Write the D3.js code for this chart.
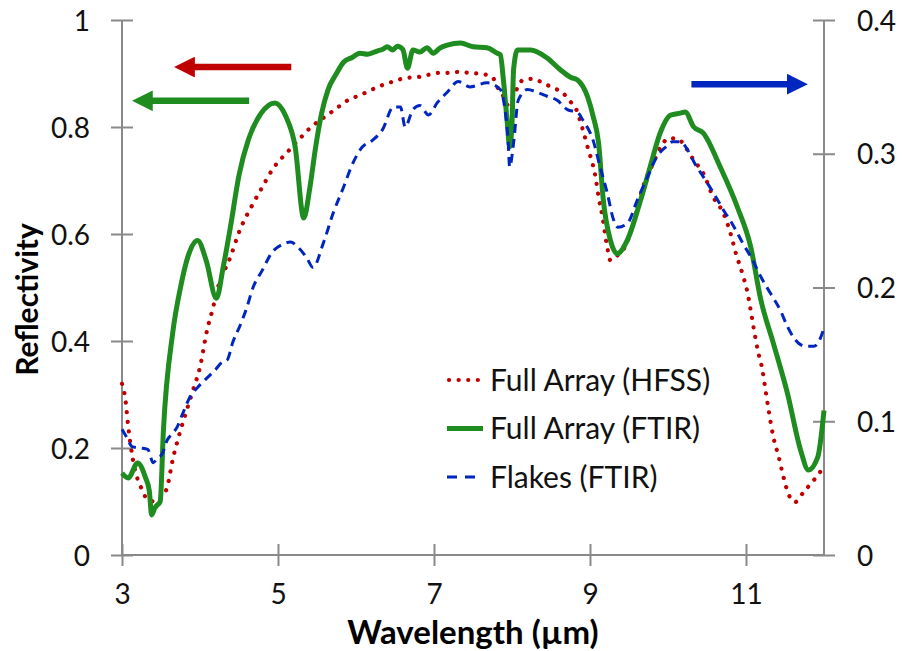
<!DOCTYPE html>
<html>
<head>
<meta charset="utf-8">
<script src="https://cdn.jsdelivr.net/npm/d3@7/dist/d3.min.js"></script>
<style>
  body { margin: 0; background: #fff; }
  svg { display: block; font-family: Lato, "Open Sans", sans-serif; }
</style>
</head>
<body>
<svg width="902" height="651"></svg>
<script>
// series data, [wavelength (um), reflectivity]
const hfss = [
  [3.00,0.320],[3.04,0.295],[3.08,0.240],[3.14,0.178],[3.26,0.121],[3.33,0.103],[3.42,0.100],
  [3.51,0.108],[3.58,0.127],[3.65,0.178],[3.74,0.228],[3.83,0.271],[3.91,0.308],[4.00,0.351],
  [4.09,0.420],[4.17,0.464],[4.23,0.500],[4.39,0.557],[4.51,0.607],[4.67,0.654],[4.80,0.688],
  [4.94,0.723],[5.12,0.753],[5.31,0.783],[5.41,0.798],[5.63,0.822],[5.76,0.836],[5.86,0.847],
  [5.99,0.856],[6.12,0.864],[6.25,0.873],[6.37,0.880],[6.50,0.886],[6.64,0.892],[6.78,0.893],
  [6.91,0.897],[7.05,0.901],[7.18,0.901],[7.32,0.903],[7.46,0.901],[7.62,0.899],[7.75,0.893],
  [7.81,0.875],[7.88,0.860],[7.95,0.841],[8.07,0.873],[8.14,0.888],[8.27,0.890],[8.40,0.882],
  [8.53,0.873],[8.65,0.864],[8.75,0.847],[8.81,0.837],[8.91,0.794],[8.98,0.757],[9.03,0.733],
  [9.07,0.707],[9.11,0.669],[9.16,0.632],[9.22,0.576],[9.26,0.551],[9.36,0.561],[9.45,0.576],
  [9.58,0.632],[9.68,0.688],[9.80,0.729],[9.90,0.761],[10.01,0.779],[10.13,0.778],[10.22,0.763],
  [10.33,0.738],[10.45,0.714],[10.58,0.669],[10.71,0.639],[10.80,0.602],[10.87,0.564],
  [10.96,0.523],[11.02,0.490],[11.08,0.440],[11.15,0.383],[11.21,0.346],[11.25,0.308],
  [11.29,0.271],[11.35,0.221],[11.42,0.183],[11.48,0.146],[11.55,0.112],[11.63,0.099],
  [11.74,0.118],[11.87,0.140],[11.99,0.163]
];

const ftir = [
  [3.00,0.153],[3.08,0.144],[3.20,0.172],[3.30,0.145],[3.35,0.120],[3.38,0.075],[3.42,0.088],
  [3.45,0.093],[3.49,0.100],[3.53,0.230],[3.65,0.415],[3.75,0.500],[3.85,0.560],[3.97,0.588],
  [4.08,0.550],[4.21,0.480],[4.30,0.540],[4.39,0.613],[4.50,0.710],[4.62,0.776],[4.78,0.825],
  [4.96,0.845],[5.10,0.820],[5.22,0.763],[5.33,0.630],[5.41,0.688],[5.48,0.760],[5.56,0.826],
  [5.64,0.869],[5.75,0.900],[5.84,0.921],[5.95,0.930],[6.05,0.938],[6.15,0.936],[6.27,0.942],
  [6.35,0.946],[6.40,0.950],[6.47,0.944],[6.53,0.951],[6.60,0.945],[6.66,0.910],[6.73,0.944],
  [6.82,0.940],[6.91,0.948],[6.99,0.938],[7.08,0.948],[7.17,0.953],[7.34,0.957],[7.50,0.950],
  [7.68,0.948],[7.81,0.938],[7.85,0.935],[7.89,0.888],[7.94,0.807],[7.97,0.763],[8.00,0.807],
  [8.02,0.907],[8.07,0.944],[8.24,0.944],[8.45,0.929],[8.62,0.907],[8.75,0.893],[8.84,0.888],
  [8.97,0.856],[9.04,0.820],[9.11,0.770],[9.17,0.664],[9.26,0.589],[9.35,0.563],[9.48,0.589],
  [9.65,0.664],[9.77,0.725],[9.90,0.789],[10.03,0.822],[10.16,0.826],[10.22,0.828],
  [10.33,0.800],[10.45,0.789],[10.67,0.725],[10.89,0.650],[11.06,0.576],[11.19,0.477],
  [11.35,0.396],[11.53,0.303],[11.70,0.196],[11.80,0.159],[11.92,0.183],[12.00,0.270]
];

// flakes are on the secondary (right) axis
const flakes = [
  [3.00,0.094],[3.06,0.088],[3.13,0.081],[3.23,0.080],[3.33,0.079],[3.40,0.069],[3.46,0.073],
  [3.51,0.075],[3.58,0.086],[3.65,0.091],[3.71,0.096],[3.78,0.106],[3.87,0.118],[3.98,0.126],
  [4.10,0.133],[4.19,0.138],[4.28,0.144],[4.35,0.146],[4.42,0.159],[4.51,0.171],[4.60,0.185],
  [4.68,0.200],[4.80,0.213],[4.92,0.226],[5.05,0.232],[5.16,0.234],[5.26,0.230],[5.37,0.222],
  [5.45,0.215],[5.58,0.233],[5.71,0.256],[5.84,0.275],[5.96,0.293],[6.08,0.305],[6.21,0.310],
  [6.34,0.318],[6.48,0.335],[6.57,0.335],[6.63,0.320],[6.73,0.333],[6.82,0.336],[6.93,0.329],
  [7.04,0.338],[7.17,0.346],[7.31,0.354],[7.46,0.350],[7.68,0.353],[7.85,0.348],[7.91,0.333],
  [7.95,0.310],[7.97,0.290],[8.02,0.308],[8.08,0.340],[8.20,0.348],[8.32,0.346],[8.45,0.343],
  [8.58,0.340],[8.71,0.333],[8.84,0.331],[8.91,0.325],[9.04,0.310],[9.13,0.290],[9.22,0.271],
  [9.30,0.251],[9.36,0.245],[9.48,0.248],[9.61,0.266],[9.74,0.283],[9.86,0.298],[9.97,0.305],
  [10.06,0.309],[10.16,0.309],[10.25,0.303],[10.35,0.292],[10.45,0.283],[10.58,0.271],
  [10.71,0.258],[10.83,0.247],[10.96,0.233],[11.08,0.221],[11.19,0.208],[11.31,0.196],
  [11.44,0.183],[11.53,0.171],[11.63,0.161],[11.76,0.156],[11.87,0.156],[11.96,0.163],[12.00,0.170]
];

const xTicks = [3, 5, 7, 9, 11];
const yLeftTicks = [0, 0.2, 0.4, 0.6, 0.8, 1];
const yRightTicks = [0, 0.1, 0.2, 0.3, 0.4];
const legendNames = ["Full Array (HFSS)", "Full Array (FTIR)", "Flakes (FTIR)"];

// arrows: [from wavelength, to wavelength, level on left axis]
const arrows = [
  { from: 5.17, to: 3.65, y: 0.912, color: "#c00000" },
  { from: 4.63, to: 3.11, y: 0.849, color: "#1e8c1e" },
  { from: 10.30, to: 11.81, y: 0.880, color: "#0026c0" }
];

const svg = d3.select("svg");
const margin = { top: 20, right: 78, bottom: 96, left: 122 };
const width = +svg.attr("width") - margin.left - margin.right;
const height = +svg.attr("height") - margin.top - margin.bottom;
const axisColor = "#898989";
const tickFont = "28px";

const g = svg.append("g").attr("transform", `translate(${margin.left},${margin.top})`);

const x = d3.scaleLinear().domain([3, 12]).range([0, width]);
const yL = d3.scaleLinear().domain([0, 1]).range([height, 0]);
const yR = d3.scaleLinear().domain([0, 0.4]).range([height, 0]);

// axes
const xAxis = g.append("g")
  .attr("transform", `translate(0,${height})`)
  .call(d3.axisBottom(x).tickValues(xTicks).tickSize(11).tickFormat(d3.format("d")));
xAxis.selectAll(".tick line").attr("y1", -11);
xAxis.selectAll(".tick text").attr("y", 39).attr("dy", "0.36em");

const leftAxis = g.append("g")
  .call(d3.axisLeft(yL).tickValues(yLeftTicks).tickSize(11).tickFormat(d => d3.format("")(+d.toFixed(1))));
leftAxis.selectAll(".tick line").attr("x1", 11);
leftAxis.selectAll(".tick text").attr("x", -32).attr("dy", "0.36em");

const rightAxis = g.append("g")
  .attr("transform", `translate(${width},0)`)
  .call(d3.axisRight(yR).tickValues(yRightTicks).tickSize(11).tickFormat(d => d3.format("")(+d.toFixed(1))));
rightAxis.selectAll(".tick line").attr("x1", -11);
rightAxis.selectAll(".tick text").attr("x", 33).attr("dy", "0.36em");

[xAxis, leftAxis, rightAxis].forEach(a => {
  a.select(".domain").attr("stroke", axisColor).attr("stroke-width", 2);
  a.selectAll(".tick line").attr("stroke", axisColor).attr("stroke-width", 2);
  a.selectAll(".tick text")
    .attr("fill", "#111")
    .style("font-family", "Lato, 'Open Sans', sans-serif")
    .style("font-size", tickFont);
});
xAxis.select(".domain").attr("d", `M0,0H${width}`);
leftAxis.select(".domain").attr("d", `M0,${height}V0`);
rightAxis.select(".domain").attr("d", `M0,${height}V0`);

// axis titles
svg.append("text")
  .attr("x", margin.left + width / 2)
  .attr("y", 644)
  .attr("text-anchor", "middle")
  .style("font-size", "33px")
  .style("font-weight", "bold")
  .text("Wavelength (µm)");

svg.append("text")
  .attr("transform", `translate(38,${margin.top + height / 2 + 12}) rotate(-90)`)
  .attr("text-anchor", "middle")
  .style("font-size", "30px")
  .style("font-weight", "bold")
  .text("Reflectivity");

// lines
const lineL = d3.line().x(d => x(d[0])).y(d => yL(d[1])).curve(d3.curveMonotoneX);
const lineR = d3.line().x(d => x(d[0])).y(d => yR(d[1])).curve(d3.curveMonotoneX);

const styles = [
  { color: "#c00000", width: 4.2, dash: "0.1 9.5", cap: "round" },
  { color: "#1e8c1e", width: 5, dash: null, cap: "butt" },
  { color: "#0026c0", width: 3, dash: "9 6", cap: "butt" }
];

g.append("path").datum(hfss)
  .attr("d", lineL).attr("fill", "none")
  .attr("stroke", styles[0].color).attr("stroke-width", styles[0].width)
  .attr("stroke-dasharray", styles[0].dash).attr("stroke-linecap", styles[0].cap);

g.append("path").datum(ftir)
  .attr("d", lineL).attr("fill", "none")
  .attr("stroke", styles[1].color).attr("stroke-width", styles[1].width)
  .attr("stroke-linejoin", "round");

g.append("path").datum(flakes)
  .attr("d", lineR).attr("fill", "none")
  .attr("stroke", styles[2].color).attr("stroke-width", styles[2].width)
  .attr("stroke-dasharray", styles[2].dash);

// arrows
const defs = svg.append("defs");
arrows.forEach((a, i) => {
  defs.append("marker")
    .attr("id", `head${i}`)
    .attr("viewBox", "0 0 10 10")
    .attr("refX", 2).attr("refY", 5)
    .attr("markerWidth", 3.2).attr("markerHeight", 3.2)
    .attr("markerUnits", "strokeWidth")
    .attr("orient", "auto")
    .append("path").attr("d", "M0,0L10,5L0,10z").attr("fill", a.color);
  const dir = a.to > a.from ? -1 : 1;
  g.append("line")
    .attr("x1", x(a.from)).attr("x2", x(a.to) + dir * 18)
    .attr("y1", yL(a.y)).attr("y2", yL(a.y))
    .attr("stroke", a.color).attr("stroke-width", 6.5)
    .attr("marker-end", `url(#head${i})`);
});

// legend
const legend = svg.append("g").attr("transform", "translate(447,380)");
legendNames.forEach((name, i) => {
  const row = legend.append("g").attr("transform", `translate(0,${i * 48.5})`);
  const s = styles[i];
  row.append("line")
    .attr("x1", i === 0 ? 2 : 0).attr("x2", 36)
    .attr("stroke", s.color).attr("stroke-width", s.width)
    .attr("stroke-dasharray", i === 0 ? "0.1 9.5" : (i === 2 ? "10 8" : null))
    .attr("stroke-linecap", s.cap);
  row.append("text")
    .attr("x", 43).attr("dy", "0.36em")
    .style("font-size", "30px")
    .attr("fill", "#111")
    .text(name);
});
</script>
</body>
</html>
